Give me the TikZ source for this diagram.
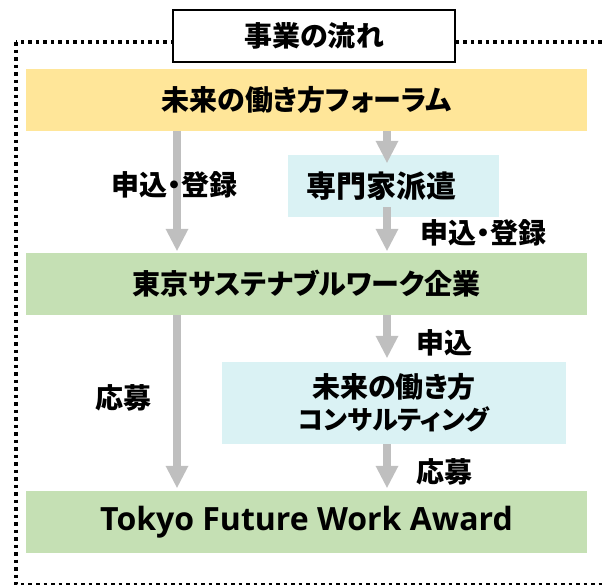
\documentclass[tikz,border=0pt]{standalone}
\usepackage{fontspec}
\newfontfamily\jpfont[RawFeature=+palt]{Noto Sans CJK JP}
\newfontfamily\enfont{Open Sans}
\usetikzlibrary{arrows.meta, calc}
\definecolor{forumyellow}{RGB}{255,230,153}
\definecolor{lightcyan}{RGB}{218,242,244}
\definecolor{lightgreen}{RGB}{197,224,180}
\definecolor{flowgray}{RGB}{191,191,191}
\tikzset{
    box/.style={minimum height=62pt, inner sep=0pt, font=\jpfont\bfseries\fontsize{28pt}{32pt}\selectfont}, % 流程框
    wide box/.style={box, minimum width=561pt}, % 通栏的框
    flow/.style={flowgray, line width=8pt, -{Triangle[width=23pt, length=22pt, line width=0pt]}}, % 灰色粗箭头
    lbl/.style={inner sep=0pt, font=\jpfont\bfseries\fontsize{28pt}{32pt}\selectfont} % 箭头旁的文字
}

\begin{document}
\begin{tikzpicture}[x=1pt, y=-1pt]
    \useasboundingbox (0,0) rectangle (602,584);
    \clip (0,0) rectangle (602,584);

    \draw[line width=3.5pt, dash pattern=on 3.5pt off 4pt] (16,42) rectangle (640,584.5);
    \node[draw, line width=1.5pt, fill=white, minimum width=282pt, minimum height=52pt, inner sep=0pt,
        font=\jpfont\bfseries\fontsize{28pt}{32pt}\selectfont] (title) at (314,36) {事業の流れ};

    \coordinate (colL) at (177,0);
    \coordinate (colR) at (387,0);

    \node[wide box, fill=forumyellow] (forum) at (306.5,100) {未来の働き方フォーラム};
    \node[box, fill=lightcyan, minimum width=211pt, font=\jpfont\bfseries\fontsize{30pt}{34pt}\selectfont] (expert) at (393.5,186) {\hspace*{-24pt}\raisebox{-4pt}{専門家派遣}};
    \node[wide box, fill=lightgreen] (company) at (306.5,284) {東京サステナブルワーク企業};
    \node[box, fill=lightcyan, minimum width=344pt, minimum height=82pt, align=center] (consult) at (394,403) {未来の働き方\\{\fontsize{26pt}{32pt}\selectfont コンサルティング}};
    \node[wide box, fill=lightgreen, font=\enfont\bfseries\fontsize{32pt}{36pt}\selectfont] (award) at (306.5,522) {Tokyo Future Work Award};

    \draw[flow] (forum.south -| colL) -- ($(company.north -| colL)+(0,-2)$);
    \draw[flow] (forum.south -| colR) -- ($(expert.north -| colR)+(0,8)$);
    \draw[flow] ($(expert.south -| colR)+(0,-10)$) -- ($(company.north -| colR)+(0,-2)$);
    \draw[flow] (company.south -| colL) -- ($(award.north -| colL)+(0,-3)$);
    \draw[flow] (company.south -| colR) -- ($(consult.north -| colR)+(0,-4)$);
    \draw[flow] (consult.south -| colR) -- ($(award.north -| colR)+(0,-3)$);

    \node[lbl] (applyL) at (174.5,185) {申込・登録};
    \node[lbl, anchor=west] (applyR) at (420,233) {申込・登録};
    \node[lbl] (entryL) at (123.5,398) {応募};
    \node[lbl, anchor=west] (applyC) at (416,343) {申込};
    \node[lbl, anchor=west] (entryR) at (416,472) {応募};
\end{tikzpicture}
\end{document}
